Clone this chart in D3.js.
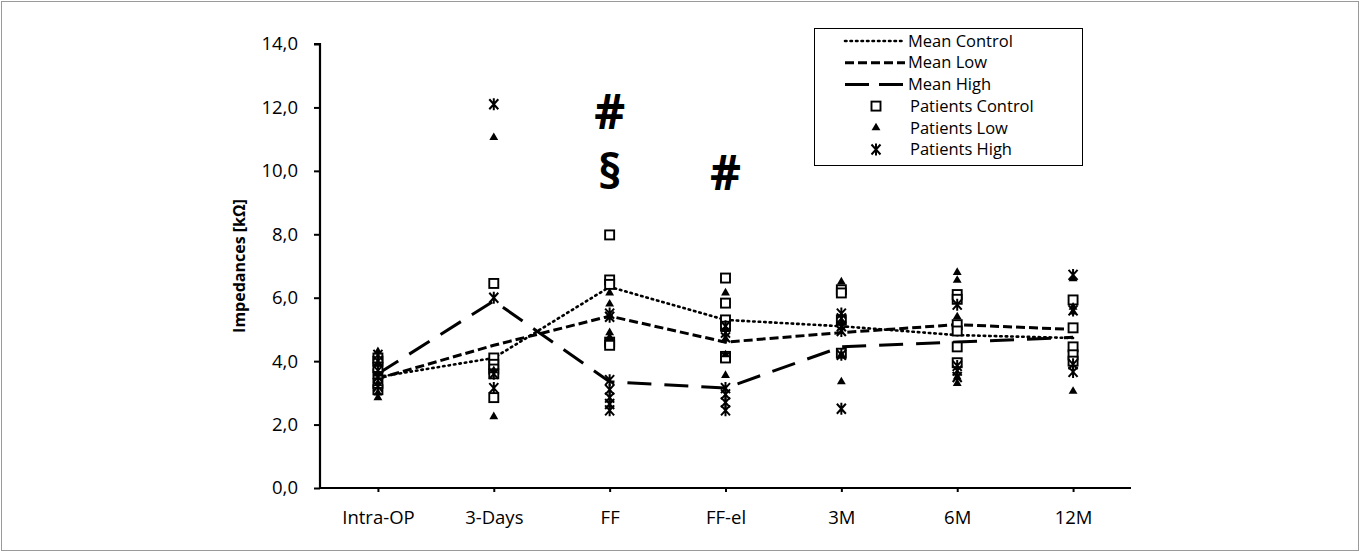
<!DOCTYPE html>
<html>
<head>
<meta charset="utf-8">
<script src="https://cdn.jsdelivr.net/npm/d3@7"></script>
<style>
  body { margin: 0; background: #fff; }
  text { font-family: "Open Sans", "Noto Sans", sans-serif; fill: #000; }
</style>
</head>
<body>
<div id="chart"></div>
<script>
// categories on the x axis
const categories = ["Intra-OP", "3-Days", "FF", "FF-el", "3M", "6M", "12M"];

// mean lines
const meanControl = [3.5, 4.1, 6.34, 5.3, 5.1, 4.82, 4.73];
const meanLow = [3.45, 4.5, 5.42, 4.6, 4.9, 5.15, 5.0];
const meanHigh = [3.6, 5.9, 3.35, 3.15, 4.45, 4.6, 4.75];

// individual patients, one list per category
const patientsControl = [
  [3.1, 3.3, 3.6, 3.8, 4.0, 4.1],
  [6.45, 4.1, 3.9, 3.75, 3.6, 2.85],
  [7.98, 6.56, 6.42, 4.6, 4.5],
  [6.62, 5.83, 5.3, 5.1, 4.15, 4.1],
  [6.25, 6.15, 5.3, 4.25],
  [6.1, 5.95, 5.15, 4.95, 4.45, 3.95],
  [5.93, 5.05, 4.45, 4.2, 4.0]
];
const patientsLow = [
  [2.85, 3.0, 3.3, 3.6, 3.9, 4.3],
  [11.05, 3.7, 2.25],
  [6.15, 5.8, 4.9, 4.75],
  [6.15, 5.0, 4.7, 4.2, 3.55],
  [6.5, 5.2, 4.2, 3.35],
  [6.8, 6.55, 5.4, 3.5, 3.3],
  [6.6, 5.7, 5.55, 3.05]
];
const patientsHigh = [
  [3.2, 3.5, 3.7, 4.0, 4.2],
  [12.1, 6.0, 3.6, 3.15],
  [5.5, 5.4, 3.4, 3.1, 2.85, 2.65, 2.45],
  [5.1, 4.9, 4.75, 3.15, 2.95, 2.7, 2.45],
  [5.5, 5.35, 5.1, 4.95, 4.2, 2.5],
  [5.78, 3.85, 3.7, 3.5],
  [6.72, 5.6, 3.9, 3.66]
];

// significance marks
const marks = [
  { cat: "FF", text: "#", value: 11.86 },
  { cat: "FF", text: "§", value: 9.97 },
  { cat: "FF-el", text: "#", value: 9.93 }
];

const yTicks = [0, 2, 4, 6, 8, 10, 12, 14];

const W = 1360, H = 552;
const margin = { top: 44, right: 229, bottom: 64, left: 320 };
const width = W - margin.left - margin.right;
const height = H - margin.top - margin.bottom;

const svg = d3.select("#chart").append("svg")
  .attr("width", W).attr("height", H);

// outer frame
svg.append("rect")
  .attr("x", 1.5).attr("y", 1.5)
  .attr("width", W - 3).attr("height", H - 3)
  .attr("fill", "none").attr("stroke", "#9a9a9a").attr("stroke-width", 1);

const g = svg.append("g")
  .attr("transform", "translate(" + margin.left + "," + margin.top + ")");

const x = d3.scalePoint().domain(categories).range([0, width]).padding(0.5);
const y = d3.scaleLinear().domain([0, 14]).range([height, 0]);

const fmt = d => d3.format(".1f")(d).replace(".", ",");

// y axis
const yAxis = g.append("g")
  .call(d3.axisLeft(y).tickValues(yTicks).tickFormat(fmt).tickSize(6).tickPadding(16));
yAxis.select(".domain").attr("stroke-width", 2.2).attr("d", "M-6,0H0V" + height);
yAxis.selectAll(".tick line").attr("stroke-width", 2);
yAxis.selectAll("text").attr("font-size", 18.5).attr("fill", "#000");

// x axis
const xAxis = g.append("g")
  .attr("transform", "translate(0," + height + ")")
  .call(d3.axisBottom(x).tickSize(4).tickPadding(19));
xAxis.select(".domain").attr("stroke-width", 2.2).attr("d", "M0,0H" + width);
xAxis.selectAll(".tick line").attr("stroke-width", 2);
xAxis.selectAll("text").attr("font-size", 18.5).attr("fill", "#000");

// y axis title
g.append("text")
  .attr("transform", "translate(-75," + (height / 2) + ") rotate(-90)")
  .attr("text-anchor", "middle")
  .attr("font-size", 16)
  .attr("font-weight", "bold")
  .text("Impedances [kΩ]");

// line styles
const lineStyles = {
  control: { dash: "1.5,4", width: 2.6, cap: "round" },
  low: { dash: "9,4", width: 3, cap: "butt" },
  high: { dash: "24,13", width: 3, cap: "butt" }
};

const line = d3.line()
  .x((d, i) => x(categories[i]))
  .y(d => y(d));

const means = [
  { key: "control", values: meanControl },
  { key: "low", values: meanLow },
  { key: "high", values: meanHigh }
];

g.selectAll(".mean")
  .data(means)
  .enter().append("path")
  .attr("class", "mean")
  .attr("d", d => line(d.values))
  .attr("fill", "none")
  .attr("stroke", "#000")
  .attr("stroke-width", d => lineStyles[d.key].width)
  .attr("stroke-dasharray", d => lineStyles[d.key].dash)
  .attr("stroke-linecap", d => lineStyles[d.key].cap);

// marker shapes
function drawSquare(sel) {
  sel.append("rect")
    .attr("x", -4.5).attr("y", -4.5).attr("width", 9).attr("height", 9)
    .attr("fill", "#fff").attr("stroke", "#000").attr("stroke-width", 1.9);
}
function drawTriangle(sel) {
  sel.append("path")
    .attr("d", d3.symbol().type(d3.symbolTriangle).size(34)())
    .attr("fill", "#000");
}
function drawStar(sel) {
  sel.append("path")
    .attr("d", "M-4.5,-5L4.5,5M-4.5,5L4.5,-5M0,-6V6")
    .attr("fill", "none").attr("stroke", "#000").attr("stroke-width", 2);
}

function flatten(groups) {
  const out = [];
  groups.forEach((vals, i) => vals.forEach(v => out.push({ cat: categories[i], v: v })));
  return out;
}

const ptsLayer = g.append("g");
function addPoints(groups, draw) {
  ptsLayer.append("g").selectAll("g")
    .data(flatten(groups))
    .enter().append("g")
    .attr("transform", d => "translate(" + x(d.cat) + "," + y(d.v) + ")")
    .call(draw);
}
addPoints(patientsControl, drawSquare);
addPoints(patientsLow, drawTriangle);
addPoints(patientsHigh, drawStar);

// significance marks
g.selectAll(".mark")
  .data(marks)
  .enter().append("text")
  .attr("class", "mark")
  .attr("x", d => x(d.cat))
  .attr("y", d => y(d.value))
  .attr("dy", "0.35em")
  .attr("text-anchor", "middle")
  .attr("font-size", 48)
  .attr("font-weight", "bold")
  .text(d => d.text);

// legend
const legend = svg.append("g").attr("transform", "translate(814,28)");
legend.append("rect")
  .attr("x", 0.5).attr("y", 0.5).attr("width", 268).attr("height", 137)
  .attr("fill", "#fff").attr("stroke", "#000").attr("stroke-width", 1);

const legendItems = [
  { label: "Mean Control", kind: "line", key: "control" },
  { label: "Mean Low", kind: "line", key: "low" },
  { label: "Mean High", kind: "line", key: "high" },
  { label: "Patients Control", kind: "pt", draw: drawSquare },
  { label: "Patients Low", kind: "pt", draw: drawTriangle },
  { label: "Patients High", kind: "pt", draw: drawStar }
];

legendItems.forEach((it, i) => {
  const cy = 13 + i * 21.7;
  const row = legend.append("g").attr("transform", "translate(0," + cy + ")");
  if (it.kind === "line") {
    const st = lineStyles[it.key];
    row.append("line")
      .attr("x1", 31).attr("x2", 91).attr("y1", 0).attr("y2", 0)
      .attr("stroke", "#000")
      .attr("stroke-width", st.width)
      .attr("stroke-dasharray", it.key === "high" ? "24,10" : st.dash)
      .attr("stroke-linecap", st.cap);
    row.append("text").attr("x", 94).attr("y", 0).attr("dy", "0.35em")
      .attr("font-size", 16.5).text(it.label);
  } else {
    row.append("g").attr("transform", "translate(62,0)").call(it.draw);
    row.append("text").attr("x", 96).attr("y", 0).attr("dy", "0.35em")
      .attr("font-size", 16.5).text(it.label);
  }
});
</script>
</body>
</html>
